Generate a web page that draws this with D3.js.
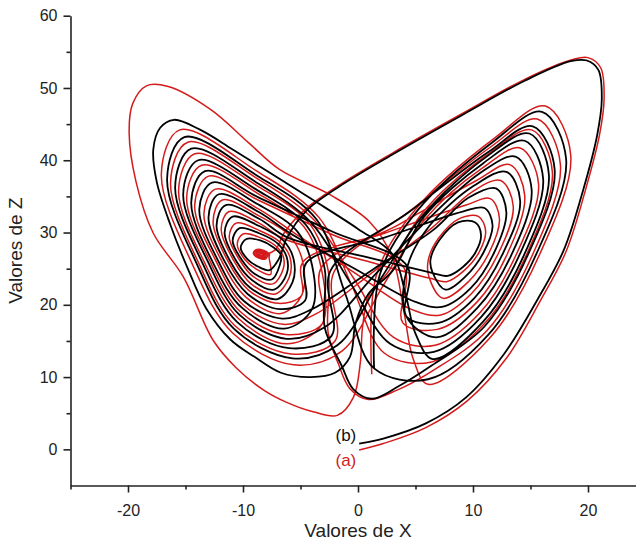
<!DOCTYPE html>
<html>
<head>
<meta charset="utf-8">
<script src="https://cdn.jsdelivr.net/npm/d3@7"></script>
<style>
  body { margin: 0; background: #fff; }
  text { font-family: "Liberation Sans", Arial, sans-serif; }
</style>
</head>
<body>
<div id="chart"></div>
<script>
// axis ticks
const xTicks = [-20, -10, 0, 10, 20];
const xMinorTicks = [-25, -15, -5, 5, 15, 25];
const zTicks = [0, 10, 20, 30, 40, 50, 60];
const zMinorTicks = [5, 15, 25, 35, 45, 55];
const seriesLabels = ['(b)', '(a)'];

// points, [x, z]
// each loop: bottom, outer side, tip, top edge, inner shoulder(6), inner side(7), inner foot(8)
const left05 = [[-7.7,24.8],[-8.7,25.3],[-9.6,26.3],[-10.2,27.9],[-9.7,29.1],[-8.5,28.9],[-7.4,28.0],[-6.7,26.9],[-6.8,25.5]];
const left09 = [[-7.6,24.2],[-8.8,24.9],[-9.8,26.2],[-10.5,28.4],[-10.0,29.8],[-8.5,29.3],[-7.2,28.2],[-6.5,26.7],[-6.5,25.0]];
const left14 = [[-7.5,23.5],[-9.0,24.3],[-10.1,26.2],[-10.9,28.9],[-10.3,30.6],[-8.6,29.9],[-7.0,28.5],[-6.2,26.6],[-6.2,24.3]];
const left18 = [[-7.4,22.9],[-9.1,23.9],[-10.3,26.2],[-11.2,29.4],[-10.6,31.3],[-8.6,30.3],[-6.8,28.7],[-5.9,26.5],[-6.0,23.7]];
const left23 = [[-7.3,22.1],[-9.2,23.4],[-10.6,26.1],[-11.6,30.0],[-10.9,32.2],[-8.6,30.9],[-6.5,28.9],[-5.6,26.3],[-5.7,23.1]];
const left27 = [[-7.2,21.5],[-9.3,22.9],[-10.8,26.1],[-11.9,30.5],[-11.2,32.9],[-8.6,31.3],[-6.4,29.1],[-5.4,26.2],[-5.4,22.5]];
const left32 = [[-7.0,20.8],[-9.4,22.4],[-11.1,26.0],[-12.3,31.0],[-11.5,33.8],[-8.6,31.9],[-6.1,29.3],[-5.1,26.0],[-5.1,21.8]];
const left36 = [[-6.9,20.2],[-9.5,22.0],[-11.3,26.0],[-12.6,31.5],[-11.8,34.5],[-8.6,32.3],[-5.9,29.5],[-4.8,25.9],[-4.9,21.3]];
const left41 = [[-6.8,19.4],[-9.6,21.5],[-11.6,26.0],[-13.0,32.1],[-12.1,35.3],[-8.7,32.9],[-5.7,29.7],[-4.5,25.8],[-4.6,20.6]];
const left45 = [[-6.7,18.8],[-9.7,21.0],[-11.8,25.9],[-13.4,32.6],[-12.4,36.0],[-8.7,33.3],[-5.5,29.9],[-4.3,25.7],[-4.3,20.0]];
const left50 = [[-6.6,18.1],[-9.9,20.5],[-12.1,25.9],[-13.8,33.2],[-12.7,36.9],[-8.7,33.9],[-5.3,30.2],[-4.0,25.5],[-4.0,19.4]];
const left55 = [[-6.5,17.3],[-10.0,20.0],[-12.3,25.9],[-14.2,33.7],[-13.0,37.8],[-8.7,34.5],[-5.1,30.4],[-3.7,25.4],[-3.7,18.7]];
const left59 = [[-6.4,16.7],[-10.1,19.6],[-12.6,25.8],[-14.5,34.2],[-13.3,38.5],[-8.7,34.9],[-4.9,30.6],[-3.5,25.2],[-3.4,18.1]];
const left64 = [[-6.3,15.9],[-10.2,19.0],[-12.8,25.8],[-14.9,34.8],[-13.6,39.3],[-8.8,35.5],[-4.7,30.8],[-3.2,25.1],[-3.1,17.4]];
const left68 = [[-6.2,15.3],[-10.3,18.6],[-13.0,25.8],[-15.2,35.3],[-13.9,40.0],[-8.8,35.9],[-4.5,31.0],[-2.9,25.0],[-2.9,16.9]];
const left73 = [[-6.1,14.6],[-10.4,18.1],[-13.3,25.7],[-15.6,35.8],[-14.2,40.9],[-8.8,36.5],[-4.2,31.2],[-2.6,24.8],[-2.6,16.2]];
const left77 = [[-6.0,14.0],[-10.5,17.6],[-13.5,25.7],[-15.9,36.3],[-14.5,41.6],[-8.8,36.9],[-4.1,31.4],[-2.4,24.7],[-2.3,15.7]];
const left82 = [[-5.8,13.2],[-10.7,17.1],[-13.8,25.6],[-16.3,36.9],[-14.8,42.5],[-8.8,37.5],[-3.8,31.7],[-2.1,24.5],[-2.0,15.0]];
const left86 = [[-5.7,12.6],[-10.8,16.7],[-14.0,25.6],[-16.6,37.4],[-15.1,43.2],[-8.8,37.9],[-3.6,31.8],[-1.8,24.4],[-1.8,14.4]];
const left92 = [[-5.6,11.7],[-10.9,16.1],[-14.4,25.6],[-17.1,38.1],[-15.5,44.2],[-8.9,38.6],[-3.4,32.1],[-1.5,24.2],[-1.4,13.6]];

const right00 = [[7.8,24.0],[9.1,25.2],[10.2,27.2],[10.7,29.6],[10.2,31.4],[8.7,31.4],[7.1,29.0],[6.3,26.2],[6.5,24.4]];
const right05 = [[7.7,23.2],[9.2,24.7],[10.5,27.2],[11.1,30.2],[10.5,32.2],[8.9,32.0],[7.0,29.2],[6.1,26.1],[6.2,23.7]];
const right12 = [[7.6,22.1],[9.4,24.0],[10.9,27.2],[11.7,31.0],[11.0,33.4],[9.1,32.9],[6.9,29.5],[5.7,25.9],[5.8,22.7]];
const right20 = [[7.4,20.9],[9.6,23.2],[11.4,27.2],[12.3,31.9],[11.5,34.7],[9.4,33.8],[6.7,29.9],[5.3,25.8],[5.4,21.5]];
const right28 = [[7.3,19.7],[9.8,22.3],[11.8,27.1],[12.9,32.8],[12.0,36.1],[9.6,34.8],[6.5,30.3],[5.0,25.6],[5.0,20.4]];
const right35 = [[7.2,18.6],[9.9,21.6],[12.2,27.1],[13.5,33.6],[12.4,37.2],[9.9,35.6],[6.4,30.6],[4.6,25.4],[4.6,19.4]];
const right42 = [[7.0,17.5],[10.1,20.9],[12.6,27.1],[14.1,34.4],[12.9,38.4],[10.1,36.5],[6.2,30.9],[4.3,25.3],[4.2,18.4]];
const right48 = [[6.9,16.6],[10.3,20.3],[13.0,27.1],[14.5,35.1],[13.2,39.4],[10.3,37.2],[6.1,31.2],[4.0,25.1],[3.9,17.5]];
const right55 = [[6.8,15.5],[10.4,19.6],[13.4,27.1],[15.1,35.9],[13.7,40.5],[10.5,38.1],[5.9,31.5],[3.7,25.0],[3.5,16.5]];
const right62 = [[6.7,14.4],[10.6,18.9],[13.8,27.1],[15.7,36.7],[14.1,41.7],[10.8,38.9],[5.8,31.8],[3.3,24.8],[3.1,15.5]];
const right68 = [[6.6,13.5],[10.7,18.3],[14.1,27.1],[16.1,37.4],[14.5,42.7],[10.9,39.6],[5.7,32.1],[3.0,24.7],[2.8,14.6]];
const right74 = [[6.5,12.5],[10.9,17.7],[14.5,27.1],[16.6,38.0],[14.9,43.7],[11.1,40.4],[5.6,32.3],[2.8,24.6],[2.4,13.7]];
const right77 = [[6.4,12.1],[11.0,17.4],[14.7,27.1],[16.9,38.4],[15.1,44.2],[11.2,40.7],[5.5,32.5],[2.6,24.5],[2.3,13.3]];
const right80 = [[6.4,11.6],[11.0,17.0],[14.8,27.0],[17.1,38.7],[15.2,44.7],[11.3,41.1],[5.4,32.6],[2.5,24.4],[2.1,12.9]];
const right86 = [[6.3,10.7],[11.2,16.4],[15.2,27.0],[17.6,39.4],[15.6,45.7],[11.5,41.8],[5.3,32.9],[2.2,24.3],[1.8,12.0]];
const right92 = [[6.1,9.7],[11.3,15.8],[15.5,27.0],[18.1,40.1],[16.0,46.7],[11.7,42.5],[5.2,33.1],[1.9,24.2],[1.4,11.2]];
const right97 = [[6.1,9.0],[11.4,15.3],[15.8,27.0],[18.5,40.7],[16.3,47.5],[11.9,43.1],[5.1,33.4],[1.6,24.1],[1.2,10.4]];

// tight red knot at the left centre
const knot10 = [[-8.34,26.86],[-8.42,26.88],[-8.49,26.93],[-8.54,27.03],[-8.5,27.12],[-8.41,27.13],[-8.32,27.08],[-8.26,27.0],[-8.27,26.92]];
const knot20 = [[-8.28,26.72],[-8.44,26.76],[-8.59,26.87],[-8.68,27.05],[-8.6,27.24],[-8.43,27.27],[-8.24,27.16],[-8.12,27.0],[-8.13,26.84]];
const knot30 = [[-8.22,26.58],[-8.46,26.64],[-8.68,26.8],[-8.82,27.08],[-8.7,27.36],[-8.44,27.4],[-8.16,27.24],[-7.98,27.0],[-8.0,26.76]];
const knot40 = [[-8.16,26.44],[-8.48,26.52],[-8.77,26.73],[-8.96,27.11],[-8.8,27.48],[-8.45,27.53],[-8.08,27.32],[-7.84,27.0],[-7.87,26.68]];
const knot50 = [[-8.1,26.3],[-8.5,26.4],[-8.87,26.66],[-9.1,27.14],[-8.9,27.6],[-8.47,27.67],[-8.0,27.4],[-7.7,27.0],[-7.73,26.6]];

// black curve (b): start, hops between the wings, big outer swing
const bStart = [[0.1,0.8],[2.2,1.5],[5.9,3.6],[9.4,7.2],[12.7,13.2],[15.6,20.7],[17.9,27.6],[19.6,36],[20.8,43.5],[21.2,48.5],[20.9,52.5],[19.9,53.8],[18.5,53.7],[14.5,51],[9,46.2],[3,40.8],[-1.5,36.5],[-4.5,33],[-6.2,29.2],[-6.9,26.3]];
const bX1 = [[0.2,26.8]];
const bX2 = [[2.3,29.3]];
const bX3 = [[-0.4,25.1]];
const bX4 = [[1.3,24.9]];
const bX5 = [[-2.2,30.1]];
const bX6 = [[1.5,24.2]];
const bX7 = [[-1.4,11.5],[-0.4,8.3],[1.2,7.0],[3.6,8.8]];
const bX8 = [[4.5,32.9]];
const bX9 = [[-0.65,23]];
const bOuter = [[0.9,21.5],[-0.2,17.5],[-0.7,12.8],[-2,10.6],[-4.1,10],[-6.7,10.6],[-9,12.8],[-11.1,15.2],[-13.2,19.5],[-14.8,25],[-16.3,31],[-17.5,37],[-17.8,41.5],[-17.2,44.5],[-16,45.6],[-13.7,44.2],[-11,41.6],[-8.5,39.1],[-3.9,34.5],[0,30.5],[3,27],[4.2,21],[5,16]];
const bX10 = [[1.9,23.4]];
const bX11 = [[-1.1,21.5]];

// red curve (a)
const rStart = [[0.1,-0.1],[2.2,0.8],[5.9,3.0],[9.5,6.7],[12.9,12.6],[15.8,20.4],[18.1,27.4],[19.8,36],[21.0,43.5],[21.4,48.5],[21.1,52.8],[20.0,54.2],[18.6,53.9],[14.5,51.2],[9,46.4],[3,41],[-1.5,36.7],[-4.6,33.2],[-6.4,30],[-7.2,27.6]];
const rX1 = [[-0.1,26.4]];
const rX2 = [[2.3,29.9]];
const rX3 = [[-0.45,24.6]];
const rX4 = [[1.35,24.6]];
const rX5 = [[-2.35,29.8]];
const rX6 = [[3.55,31.1]];
const rX7 = [[-1.7,11.8],[-0.7,8.4],[0.9,6.9],[3.4,8.2]];
const rX8 = [[4.7,33.2]];
const rX9 = [[-0.35,23.6]];
const rX10 = [[2.2,22.7]];
const rX11 = [[-0.55,22.7]];
const rOuter = [[1.0,21.5],[0.4,17],[0.2,12],[-0.4,7.2],[-1.8,4.7],[-3.9,5.2],[-6.2,6.5],[-8.2,8.2],[-10.6,11.3],[-12.6,15.1],[-15.2,23.9],[-17.8,29.9],[-19.3,37],[-19.9,43.8],[-19.6,47.8],[-18.4,50.3],[-16.5,50.2],[-12.8,47],[-9.5,42.4],[-6.8,38.7],[-2.4,35.2],[1,31.5],[3,26.5],[4,19],[4.8,12.5]];

// stitch the pieces in order; slices pick where a pass joins or leaves a loop
const blackPath = [
  bStart, left05, left14, left23, left32.slice(0, 7),
  bX1, right00.slice(8), right00, right12.slice(0, 6),
  bX2, left41.slice(7), left41.slice(0, 7),
  bX3, right28.slice(8), right28.slice(0, 7),
  bX4, left50.slice(8), left50, left59.slice(0, 6),
  bX5, right42.slice(7), right42, right55.slice(0, 7),
  bX6, left68.slice(8), left68,
  bX7, right80.slice(0, 6),
  bX8, left77.slice(7), left77.slice(0, 7),
  bX9, right68.slice(8), right68.slice(0, 8),
  bOuter, right74.slice(0, 7),
  bX10, left86.slice(8), left86.slice(0, 7),
  bX11, right92.slice(8), right92
].flat();

const redPath = [
  rStart, knot10, knot20, knot30, knot40, knot50, left09, left18, left27.slice(0, 7),
  rX1, right05.slice(8), right05, right20.slice(0, 6),
  rX2, left36.slice(7), left36, left45.slice(0, 7),
  rX3, right35.slice(8), right35.slice(0, 7),
  rX4, left55.slice(8), left55.slice(0, 6),
  rX5, right48.slice(7), right48.slice(0, 6),
  rX6, left64.slice(7), left64, left73,
  rX7, right86.slice(0, 6),
  rX8, left82.slice(7), left82.slice(0, 7),
  rX9, right62.slice(8), right62.slice(0, 7),
  rX10, left92.slice(8), left92.slice(0, 7),
  rX11, right77.slice(8), right77.slice(0, 8),
  rOuter, right97
].flat();

const width = 636;
const height = 542;

const svg = d3.select('#chart')
  .append('svg')
  .attr('width', width)
  .attr('height', height);

const x = d3.scaleLinear().domain([-25, 25]).range([70.5, 645.5]);
const y = d3.scaleLinear().domain([-5, 60]).range([485.5, 15.7]);

const line = d3.line()
  .x(d => x(d[0]))
  .y(d => y(d[1]))
  .curve(d3.curveCatmullRom.alpha(0.5));

svg.append('path')
  .datum(redPath)
  .attr('fill', 'none')
  .attr('stroke', '#d41a1a')
  .attr('stroke-width', 1.5)
  .attr('stroke-linejoin', 'round')
  .attr('d', line);

svg.append('path')
  .datum(blackPath)
  .attr('fill', 'none')
  .attr('stroke', '#000')
  .attr('stroke-width', 1.8)
  .attr('stroke-linejoin', 'round')
  .attr('d', line);

// axes
const styleAxis = g => {
  g.selectAll('.domain, line').attr('stroke', '#222').attr('stroke-width', 1.6);
  g.selectAll('text').attr('fill', '#222').style('font-size', '16px')
    .style('font-family', '"Liberation Sans", Arial, sans-serif');
};

svg.append('g')
  .attr('transform', `translate(0,${y(-5)})`)
  .call(d3.axisBottom(x).tickValues(xTicks).tickSize(7).tickSizeOuter(0).tickPadding(12).tickFormat(d => String(d)))
  .call(styleAxis);

svg.append('g')
  .attr('transform', `translate(0,${y(-5)})`)
  .call(d3.axisBottom(x).tickValues(xMinorTicks).tickSize(4).tickFormat(''))
  .call(g => g.select('.domain').remove())
  .call(styleAxis);

svg.append('g')
  .attr('transform', `translate(${x(-25)},0)`)
  .call(d3.axisLeft(y).tickValues(zTicks).tickSize(7).tickSizeOuter(0).tickPadding(6).tickFormat(d => String(d)))
  .call(styleAxis);

svg.append('g')
  .attr('transform', `translate(${x(-25)},0)`)
  .call(d3.axisLeft(y).tickValues(zMinorTicks).tickSize(4).tickFormat(''))
  .call(g => g.select('.domain').remove())
  .call(styleAxis);

// axis titles
svg.append('text')
  .attr('x', x(0))
  .attr('y', 537)
  .attr('text-anchor', 'middle')
  .attr('fill', '#222')
  .style('font-size', '19px')
  .text('Valores de X');

svg.append('text')
  .attr('transform', `translate(22,${(y(-5) + y(60)) / 2}) rotate(-90)`)
  .attr('text-anchor', 'middle')
  .attr('fill', '#222')
  .style('font-size', '19px')
  .text('Valores de Z');

// series labels next to the starting points
svg.append('text')
  .attr('x', x(-0.15))
  .attr('y', y(1.15))
  .attr('text-anchor', 'end')
  .attr('fill', '#111')
  .style('font-size', '17px')
  .text(seriesLabels[0]);

svg.append('text')
  .attr('x', x(-0.15))
  .attr('y', y(-2.3))
  .attr('text-anchor', 'end')
  .attr('fill', '#d41a1a')
  .style('font-size', '17px')
  .text(seriesLabels[1]);
</script>
</body>
</html>
